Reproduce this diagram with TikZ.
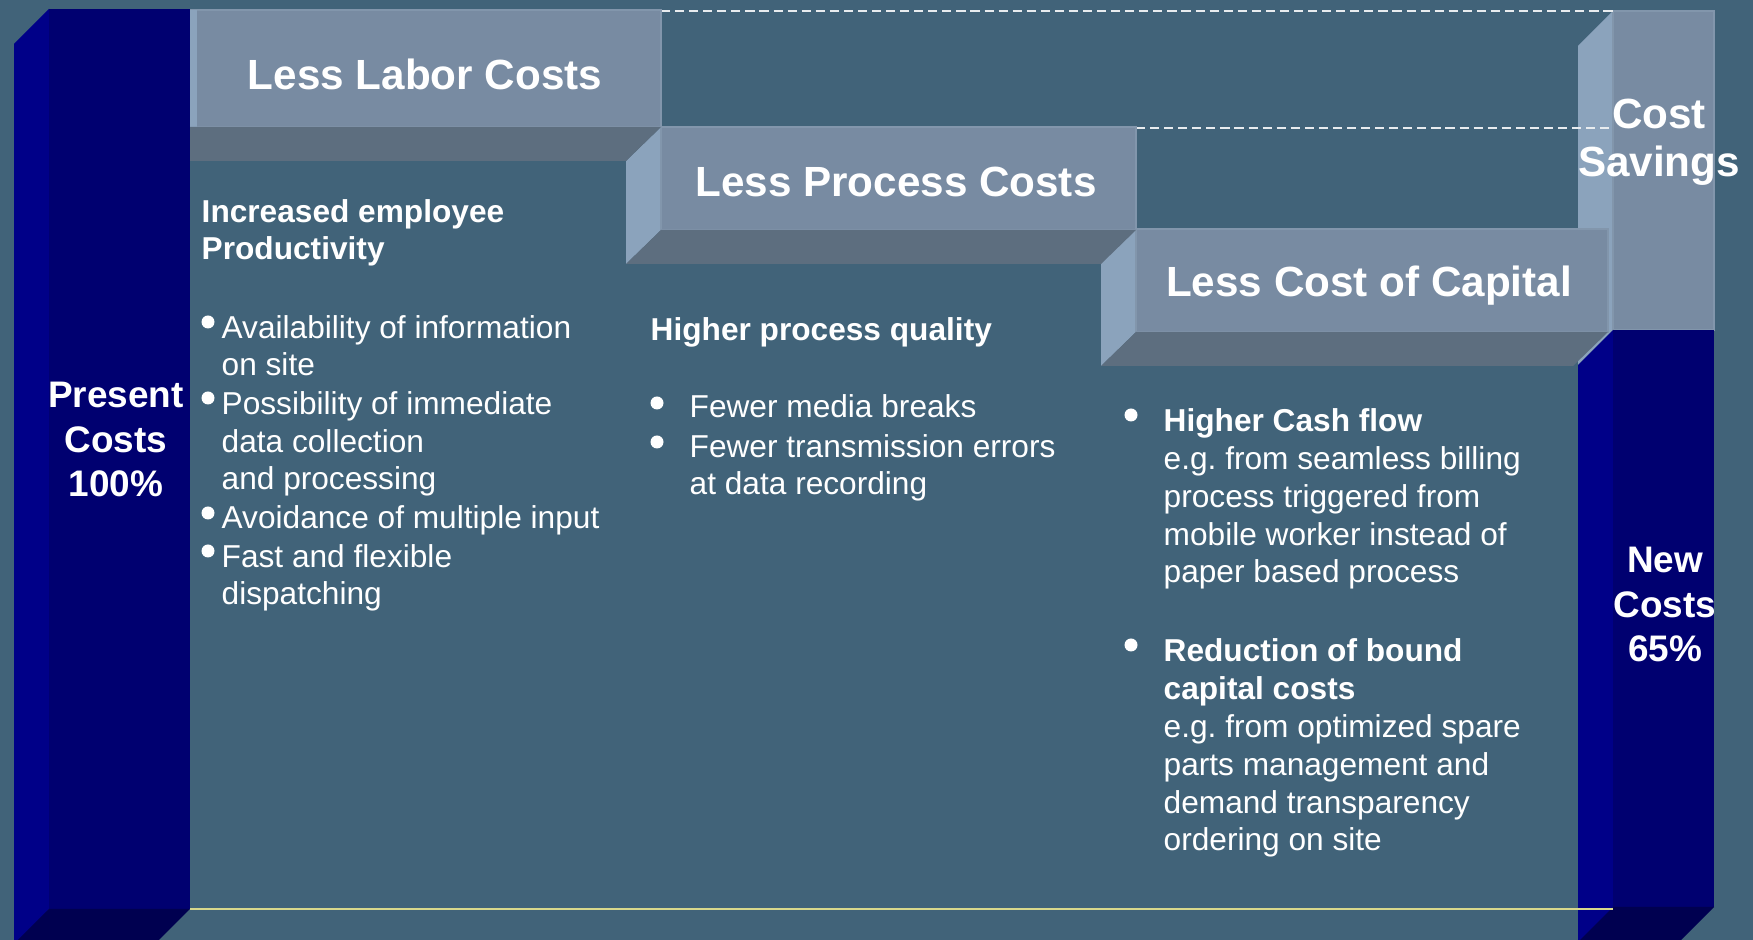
\documentclass[tikz,border=0pt]{standalone}
\usepackage{fontspec}
\setmainfont{Liberation Sans}
\frenchspacing

\definecolor{bg}        {RGB}{65,99,121}
\definecolor{stepfront} {RGB}{120,139,162}
\definecolor{stepside}  {RGB}{139,163,188}
\definecolor{stepbottom}{RGB}{93,110,127}
\definecolor{stepedge}  {RGB}{130,150,172}
\definecolor{barfront}  {RGB}{0,0,112}
\definecolor{barside}   {RGB}{0,0,136}
\definecolor{barbottom} {RGB}{0,0,80}
\definecolor{floorline} {RGB}{216,216,140}

\begin{document}
\begin{tikzpicture}[x=0.01cm,y=-0.01cm,
    title/.style={text=white,inner sep=0,anchor=base,font=\fontsize{12}{14}\selectfont\bfseries},
    barlabel/.style={text=white,inner sep=0,anchor=base,align=center,font=\fontsize{10.5}{12.7}\selectfont\bfseries},
    body/.style={text=white,inner sep=0,anchor=base west,align=left,font=\fontsize{9}{10.8}\selectfont},
    bodyhead/.style={body,font=\fontsize{9}{10.8}\selectfont\bfseries},
    dashline/.style={draw=white!88!bg,line width=0.43pt,dash pattern=on 2.6pt off 1.4pt},
    faceedge/.style={draw=stepedge,line width=0.3pt}]

    \useasboundingbox (0,0) rectangle (1753,940);
    \fill[bg] (0,0) rectangle (1753,940);
    \clip (0,0) rectangle (1753,940);

    % cost savings / new costs bar
    \fill[stepside] (1613,11) -- (1578,46) -- (1578,365) -- (1613,330) -- cycle;
    \draw[fill=stepfront,faceedge] (1613,11) rectangle (1714,330);
    \fill[barside] (1613,330) -- (1578,365) -- (1578,950) -- (1613,907) -- cycle;
    \fill[barfront] (1613,330) rectangle (1714,907);
    \fill[barbottom] (1613,907) -- (1714,907) -- (1679,942) -- (1578,942) -- cycle;

    \draw[dashline] (661,11) -- (1613,11);
    \draw[dashline] (1136,128) -- (1611,128);

    % steps
    \fill[stepside] (1136,229) -- (1101,263) -- (1101,366) -- (1136,332) -- cycle;
    \draw[fill=stepfront,faceedge] (1136,229) rectangle (1608,332);
    \fill[stepbottom] (1136,332) -- (1608,332) -- (1573,366) -- (1101,366) -- cycle;

    \fill[stepside] (661,127) -- (626,161) -- (626,264) -- (661,230) -- cycle;
    \draw[fill=stepfront,faceedge] (661,127) rectangle (1136,230);
    \fill[stepbottom] (661,230) -- (1136,230) -- (1101,264) -- (626,264) -- cycle;

    \draw[fill=stepfront,faceedge] (190,10) rectangle (661,127);
    \fill[stepside] (190,10) rectangle (197,127);
    \fill[stepbottom] (155,127) -- (661,127) -- (626,161) -- (155,161) -- cycle;

    % present costs bar
    \fill[barside] (49,9) -- (14,44) -- (14,950) -- (49,909) -- cycle;
    \fill[barfront] (49,9) rectangle (190,909);
    \fill[barbottom] (49,909) -- (190,909) -- (155,944) -- (14,944) -- cycle;

    \draw[floorline,line width=0.7pt] (190,909) -- (1613,909);

    % multi-line nodes sit on the baseline of their last line
    \node[title] (labor)   at (425,90)  {Less Labor Costs};
    \node[title] (process) at (896,197) {Less Process Costs};
    \node[title] (capital) at (1369,297) {Less Cost of Capital};
    \node[title,align=center,font=\fontsize{12}{13.9}\selectfont\bfseries] (savings) at (1659,177) {Cost\\Savings};

    \node[barlabel] (present) at (116,497) {Present\\Costs\\100\%};
    \node[barlabel] (new)     at (1665,662) {New\\Costs\\65\%};

    % labor column
    \node[bodyhead] (laborhead) at (201,260) {Increased employee\\Productivity};
    \fill[white] (208,322) circle (6.5);
    \fill[white] (208,398) circle (6.5);
    \fill[white] (208,513) circle (6.5);
    \fill[white] (208,551) circle (6.5);
    \node[body] (info)     at (221,376) {Availability of information\\on site};
    \node[body] (collect)  at (221,490) {Possibility of immediate\\data collection\\and processing};
    \node[body] (input)    at (221,529) {Avoidance of multiple input};
    \node[body] (dispatch) at (221,605) {Fast and flexible\\dispatching};

    % process column
    \node[bodyhead] (processhead) at (650,341) {Higher process quality};
    \fill[white] (657,403) circle (6.5);
    \fill[white] (657,442) circle (6.5);
    \node[body] (media)    at (689,418) {Fewer media breaks};
    \node[body] (transmit) at (689,495) {Fewer transmission errors\\at data recording};

    % capital column
    \fill[white] (1131,415) circle (6.5);
    \fill[white] (1131,645) circle (6.5);
    \node[body] (cash)  at (1163,583) {\textbf{Higher Cash flow}\\e.g. from seamless billing\\process triggered from\\mobile worker instead of\\paper based process};
    \node[body] (bound) at (1163,851) {\textbf{Reduction of bound}\\\textbf{capital costs}\\e.g. from optimized spare\\parts management and\\demand transparency\\ordering on site};

\end{tikzpicture}
\end{document}
